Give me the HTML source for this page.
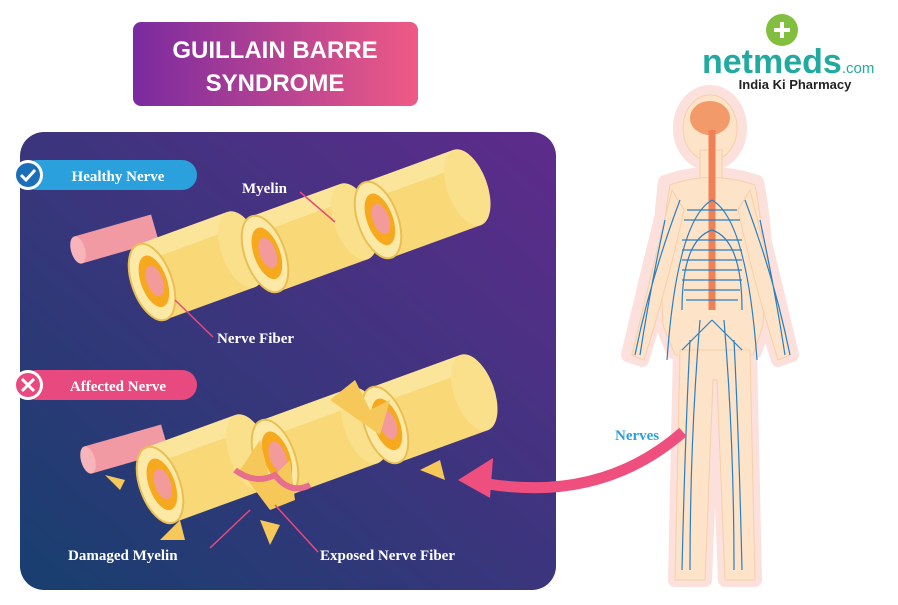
<!DOCTYPE html><html><head><style>
body{margin:0;width:898px;height:600px;background:#fff;overflow:hidden;font-family:"Liberation Sans",sans-serif}
</style></head><body>
<svg width="898" height="600" viewBox="0 0 898 600" xmlns="http://www.w3.org/2000/svg">
<defs>
<linearGradient id="tg" x1="0" x2="1"><stop offset="0" stop-color="#7a2aa0"/><stop offset="1" stop-color="#ef5a85"/></linearGradient>
<linearGradient id="pg" x1="0" y1="1" x2="1" y2="0"><stop offset="0" stop-color="#173f6e"/><stop offset="1" stop-color="#5f2b8c"/></linearGradient>
<g id="seg">
<rect x="0" y="-40" width="95" height="80" fill="#f8d877"/>
<rect x="0" y="-40" width="95" height="18" fill="#fbe59a"/>
<ellipse cx="95" cy="0" rx="20" ry="40" fill="#fbe08c"/>
<ellipse cx="0" cy="0" rx="20" ry="40" fill="#fde9a6" stroke="#e9bf55" stroke-width="2"/>
<ellipse cx="2" cy="0" rx="13" ry="27" fill="#f6a91f"/>
<ellipse cx="3" cy="0" rx="8" ry="16" fill="#f39a9a"/>
</g>
</defs>
<rect x="133" y="22" width="285" height="84" rx="8" fill="url(#tg)"/>
<text x="275" y="58" fill="#fff" font-size="24" font-weight="bold" text-anchor="middle">GUILLAIN BARRE</text>
<text x="275" y="91" fill="#fff" font-size="24" font-weight="bold" text-anchor="middle">SYNDROME</text>
<rect x="20" y="132" width="536" height="458" rx="24" fill="url(#pg)"/>
<g transform="translate(78,250) rotate(-16)"><rect x="0" y="-14" width="80" height="28" fill="#f29aa3"/><ellipse cx="0" cy="0" rx="7" ry="14" fill="#f7b5bb"/></g>
<g transform="translate(152,282) rotate(-20)"><use href="#seg"/></g>
<g transform="translate(265,254) rotate(-20)"><use href="#seg"/></g>
<g transform="translate(378,220) rotate(-20)"><use href="#seg"/></g>
<g transform="translate(88,460) rotate(-16)"><rect x="0" y="-14" width="80" height="28" fill="#f29aa3"/><ellipse cx="0" cy="0" rx="7" ry="14" fill="#f7b5bb"/></g>
<g transform="translate(160,485) rotate(-20)"><use href="#seg"/></g>
<g transform="translate(275,458) rotate(-20)"><use href="#seg"/></g>
<g transform="translate(385,425) rotate(-20)"><use href="#seg"/></g>
<path d="M240 470 l20 -30 l10 40 l20 -20 l5 40 l-25 10 z M330 400 l25 -20 l15 30 l20 -10 l-10 35 z M180 520 l-20 20 l25 0 z M260 520 l10 25 l10 -20 z M120 490 l-15 -15 l20 5z M420 470 l25 10 l-5 -20z" fill="#f6c85a"/>
<path d="M235 470 q20 15 40 5 q15 20 35 10" stroke="#e86e8e" stroke-width="6" fill="none"/>
<rect x="22" y="160" width="175" height="30" rx="15" fill="#2aa0dc"/>
<circle cx="28" cy="175" r="15" fill="#fff"/><circle cx="28" cy="175" r="12" fill="#1b6fb8"/>
<path d="M21 175 l5 5 l9 -10" stroke="#fff" stroke-width="3" fill="none"/>
<text x="118" y="181" fill="#fff" font-size="15" font-weight="bold" text-anchor="middle" font-family="Liberation Serif">Healthy Nerve</text>
<rect x="22" y="370" width="175" height="30" rx="15" fill="#e8497f"/>
<circle cx="28" cy="385" r="15" fill="#fff"/><circle cx="28" cy="385" r="12" fill="#e8497f"/>
<path d="M22 379 l12 12 M34 379 l-12 12" stroke="#fff" stroke-width="3"/>
<text x="118" y="391" fill="#fff" font-size="15" font-weight="bold" text-anchor="middle" font-family="Liberation Serif">Affected Nerve</text>
<g fill="#fff" font-size="15" font-weight="bold" font-family="Liberation Serif">
<text x="242" y="193">Myelin</text><text x="217" y="343">Nerve Fiber</text>
<text x="68" y="560">Damaged Myelin</text><text x="320" y="560">Exposed Nerve Fiber</text></g>
<g stroke="#e8497f" stroke-width="1.5"><line x1="300" y1="192" x2="335" y2="222"/><line x1="213" y1="337" x2="175" y2="300"/><line x1="210" y1="548" x2="250" y2="510"/><line x1="318" y1="552" x2="275" y2="505"/></g>
<circle cx="782" cy="30" r="16" fill="#83bf3f"/><path d="M782 22 v16 M774 30 h16" stroke="#fff" stroke-width="4"/>
<text x="702" y="73" fill="#22aaa0" font-size="34" font-weight="bold" font-family="Liberation Sans">netmeds<tspan font-size="15" font-weight="normal">.com</tspan></text>
<text x="795" y="89" fill="#222" font-size="13" font-weight="bold" text-anchor="middle">India Ki Pharmacy</text>
<g fill="#fbe0dc" stroke="#fbe0dc" stroke-width="14" stroke-linejoin="round">
<ellipse cx="710" cy="128" rx="30" ry="36"/>
<path d="M665 182 q45 -16 92 0 q12 60 8 140 l-10 30 h-82 l-12 -30 q-4 -80 4 -140z"/>
<path d="M668 190 q-20 80 -40 165 l14 5 q25 -80 40 -150z"/>
<path d="M752 190 q20 80 40 165 l-14 5 q-25 -80 -40 -150z"/>
<path d="M680 350 l-5 230 h30 l8 -200 l4 0 l8 200 h30 l-5 -230z"/>
</g>
<g fill="#fde3c8" stroke="#f7cfa9" stroke-width="1">
<ellipse cx="710" cy="128" rx="27" ry="33"/>
<rect x="700" y="150" width="22" height="30"/>
<path d="M670 185 q40 -15 85 0 q12 60 8 140 l-10 30 h-78 l-12 -30 q-4 -80 7 -140z"/>
<path d="M672 190 q-20 80 -40 165 l12 5 q25 -80 40 -150z"/>
<path d="M750 190 q20 80 40 165 l-12 5 q-25 -80 -40 -150z"/>
<path d="M680 350 l-5 230 h30 l8 -200 l4 0 l8 200 h30 l-5 -230z"/>
</g>
<ellipse cx="710" cy="118" rx="20" ry="17" fill="#f39a6a"/>
<line x1="712" y1="130" x2="712" y2="310" stroke="#f08055" stroke-width="7"/>
<g stroke="#2b7ec1" stroke-width="1.2" fill="none">
<path d="M712 200 q-35 20 -45 160 M712 200 q35 20 45 160 M712 230 q-30 10 -30 80 M712 230 q30 10 30 80 M700 320 q-10 120 -10 250 M724 320 q10 120 10 250 M680 200 q-30 80 -45 155 M745 200 q30 80 45 155 M712 250 h-30 M712 250 h30 M712 270 h-30 M712 270 h30 M712 290 h-28 M712 290 h28 M712 210 h-25 M712 210 h25 M712 220 h-28 M712 220 h28 M712 240 h-30 M712 240 h30 M712 260 h-30 M712 260 h30 M712 280 h-30 M712 280 h30 M712 300 h-26 M712 300 h26 M712 320 l-30 30 M712 320 l30 30 M690 340 q-5 100 -8 230 M734 340 q5 100 8 230 M665 220 q-15 70 -25 135 M760 220 q15 70 25 135"/>
</g>
<text x="615" y="440" fill="#2aa0dc" font-size="15" font-weight="bold" font-family="Liberation Serif">Nerves</text>
<path d="M683 432 q-80 70 -195 52" stroke="#ee4f7e" stroke-width="11" fill="none"/>
<path d="M458 480 l35 -22 l-3 40 z" fill="#ee4f7e"/>
</svg>
</body></html>
